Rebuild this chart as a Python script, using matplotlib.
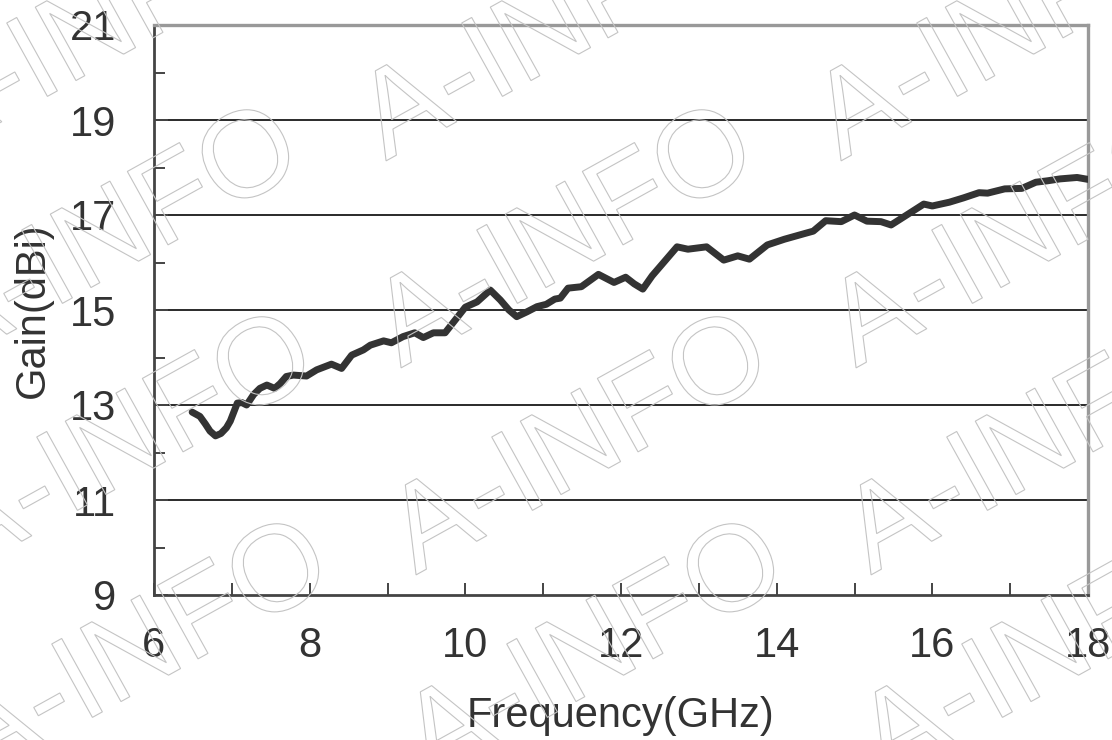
import matplotlib
matplotlib.use("Agg")
import matplotlib.pyplot as plt
from matplotlib.textpath import TextPath
from matplotlib.patches import PathPatch
from matplotlib.font_manager import FontProperties
from matplotlib.transforms import Affine2D, IdentityTransform

freq = [6.49, 6.59, 6.66, 6.72, 6.79, 6.86, 6.93, 6.98, 7.07, 7.13, 7.19, 7.28,
        7.36, 7.45, 7.55, 7.62, 7.70, 7.79, 7.96, 8.09, 8.28, 8.41, 8.54, 8.69,
        8.78, 8.95, 9.05, 9.20, 9.35, 9.46, 9.59, 9.74, 9.87, 10.00, 10.15, 10.32,
        10.45, 10.56, 10.66, 10.79, 10.92, 11.04, 11.15, 11.22, 11.32, 11.49, 11.71,
        11.91, 12.06, 12.17, 12.28, 12.40, 12.50, 12.72, 12.86, 13.10, 13.32, 13.50,
        13.65, 13.88, 14.10, 14.36, 14.47, 14.63, 14.83, 15.00, 15.16, 15.34, 15.47,
        15.69, 15.89, 16.00, 16.22, 16.40, 16.60, 16.71, 16.93, 17.15, 17.33, 17.48,
        17.64, 17.86, 18.00]
gain = [12.85, 12.76, 12.60, 12.45, 12.35, 12.40, 12.52, 12.66, 13.04, 13.05, 13.00, 13.22,
        13.35, 13.42, 13.35, 13.45, 13.60, 13.63, 13.61, 13.74, 13.86, 13.77, 14.05, 14.16,
        14.26, 14.35, 14.31, 14.44, 14.52, 14.42, 14.52, 14.52, 14.79, 15.06, 15.17, 15.42,
        15.21, 15.00, 14.86, 14.96, 15.07, 15.12, 15.23, 15.25, 15.46, 15.49, 15.75,
        15.58, 15.69, 15.55, 15.44, 15.72, 15.91, 16.33, 16.28, 16.33, 16.05, 16.14,
        16.07, 16.37, 16.49, 16.61, 16.66, 16.88, 16.86, 17.00, 16.87, 16.86, 16.79,
        17.02, 17.23, 17.19, 17.27, 17.36, 17.47, 17.46, 17.55, 17.56, 17.69, 17.72,
        17.76, 17.79, 17.75]

x_ticks = [6, 8, 10, 12, 14, 16, 18]
y_ticks = [9, 11, 13, 15, 17, 19, 21]
x_label = "Frequency(GHz)"
y_label = "Gain(dBi)"
watermark = "A-INFO"

plt.rcParams['font.family'] = ['Liberation Sans', 'DejaVu Sans']
txt = '#333333'

W, H = 1112, 740
fig = plt.figure(figsize=(W / 100, H / 100), dpi=100)
ax = fig.add_axes([154 / W, 1 - 595 / H, (1088 - 154) / W, (595 - 25) / H])

ax.set_xlim(6, 18)
ax.set_ylim(9, 21)
ax.set_xticks(x_ticks)
ax.set_yticks(y_ticks)
ax.set_xticks(range(7, 18), minor=True)
ax.set_yticks(range(10, 21, 2), minor=True)

for y in y_ticks[1:-1]:
    ax.axhline(y, color='#2a2a2a', lw=1.4, zorder=1)

ax.plot(freq, gain, color='#333333', lw=5, solid_capstyle='round',
        solid_joinstyle='round', zorder=3)

ax.tick_params(which='both', direction='in', color='#444444', width=1.4,
               labelsize=30, labelcolor=txt)
ax.tick_params(axis='x', which='both', length=9, pad=22)
ax.tick_params(axis='y', which='major', length=10, pad=27)
ax.tick_params(axis='y', which='minor', length=8)

for s in ['left', 'bottom']:
    ax.spines[s].set_color('#444444')
    ax.spines[s].set_linewidth(2)
for s in ['top', 'right']:
    ax.spines[s].set_color('#999999')
    ax.spines[s].set_linewidth(2.4)

ax.set_xlabel(x_label, fontsize=30, color=txt)
ax.set_ylabel(y_label, fontsize=30, color=txt)
ax.xaxis.set_label_coords(0.5, -0.178)
ax.yaxis.set_label_coords(-0.108, 0.5)

# outlined watermark tiles
tp = TextPath((0, 0), watermark, size=122, prop=FontProperties(family='Liberation Sans'))
for r in range(-1, 4):
    for c in range(-1, 3):
        ax_px = -55 + 455 * c + 15 * r
        ay_px = 104 + 207 * r
        tr = Affine2D().translate(-40, -43).rotate_deg(29).translate(ax_px, H - ay_px)
        p = PathPatch(tr.transform_path(tp), fc='none', ec='#c4c4c4', lw=0.8,
                      transform=IdentityTransform(), zorder=10)
        fig.add_artist(p)

fig.savefig('out.png', dpi=100)
